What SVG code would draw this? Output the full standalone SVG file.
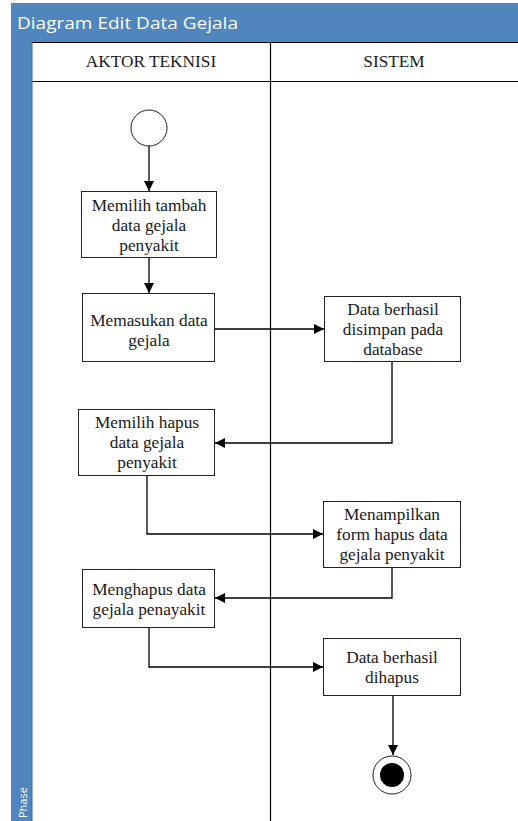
<svg xmlns="http://www.w3.org/2000/svg" width="518" height="821" viewBox="0 0 518 821">
  <defs>
    <marker id="arrow" viewBox="0 0 10 10" refX="10" refY="5" markerWidth="10" markerHeight="10" markerUnits="userSpaceOnUse" orient="auto">
      <path d="M0,0 L10,5 L0,10 z" fill="#000"/>
    </marker>
    <style>
      .box { fill: #fff; stroke: #222; stroke-width: 1; }
      .label { font-family: 'Liberation Serif', 'Times New Roman', Times, serif; font-size: 17.3px; fill: #1a1a1a; text-anchor: middle; }
      .flow { fill: none; stroke: #000; stroke-width: 1.3; marker-end: url(#arrow); }
      .lane { stroke: #000; stroke-width: 1.2; }
    </style>
  </defs>

  <rect width="518" height="821" fill="#fff"/>

  <!-- pool frame: title band and phase strip -->
  <g id="pool">
    <rect x="11" y="3" width="507" height="39" fill="#4F86BE"/>
    <rect x="11" y="42" width="21" height="779" fill="#4F86BE"/>
    <line x1="32" y1="42" x2="32" y2="821" stroke="#3d6a98" stroke-width="1"/>
    <text x="17" y="29" font-family="Open Sans, 'Noto Sans', sans-serif" font-size="17" fill="#fff" textLength="221" lengthAdjust="spacingAndGlyphs">Diagram Edit Data Gejala</text>
    <text transform="translate(27,818) rotate(-90)" font-family="Open Sans, 'Noto Sans', sans-serif" font-size="11" fill="#fff">Phase</text>
  </g>

  <!-- swimlane headers -->
  <g id="lanes">
    <line class="lane" x1="32" y1="42.5" x2="518" y2="42.5"/>
    <line class="lane" x1="32" y1="81.5" x2="518" y2="81.5"/>
    <line class="lane" x1="270.5" y1="42" x2="270.5" y2="821"/>
    <text class="label" x="151" y="67">AKTOR TEKNISI</text>
    <text class="label" x="394" y="67">SISTEM</text>
  </g>

  <!-- connectors -->
  <g id="connectors">
    <path class="flow" d="M149,146 V191"/>
    <path class="flow" d="M149,258 V293"/>
    <path class="flow" d="M215,329 H324"/>
    <path class="flow" d="M392,362 V443 H215"/>
    <path class="flow" d="M147,476 V534 H323"/>
    <path class="flow" d="M392,568 V598 H215"/>
    <path class="flow" d="M149,628 V667 H323"/>
    <path class="flow" d="M393,696 V755"/>
  </g>

  <g id="start">
    <circle cx="149" cy="128" r="18" fill="#fff" stroke="#222" stroke-width="1"/>
  </g>

  <g id="memilih-tambah">
    <rect class="box" x="81.5" y="191.5" width="135" height="66"/>
    <text class="label" x="149" y="211">Memilih tambah</text>
    <text class="label" x="149" y="231">data gejala</text>
    <text class="label" x="149" y="251">penyakit</text>
  </g>

  <g id="memasukan-data">
    <rect class="box" x="82.5" y="293.5" width="132" height="68"/>
    <text class="label" x="149" y="326">Memasukan data</text>
    <text class="label" x="149" y="346">gejala</text>
  </g>

  <g id="data-disimpan">
    <rect class="box" x="324.5" y="296.5" width="136" height="65"/>
    <text class="label" x="393" y="315">Data berhasil</text>
    <text class="label" x="393" y="335">disimpan pada</text>
    <text class="label" x="393" y="355">database</text>
  </g>

  <g id="memilih-hapus">
    <rect class="box" x="78.5" y="409.5" width="136" height="66"/>
    <text class="label" x="147" y="428">Memilih hapus</text>
    <text class="label" x="147" y="448">data gejala</text>
    <text class="label" x="147" y="468">penyakit</text>
  </g>

  <g id="form-hapus">
    <rect class="box" x="323.5" y="501.5" width="137" height="66"/>
    <text class="label" x="392" y="520">Menampilkan</text>
    <text class="label" x="392" y="540">form hapus data</text>
    <text class="label" x="392" y="560">gejala penyakit</text>
  </g>

  <g id="menghapus-data">
    <rect class="box" x="82.5" y="569.5" width="132" height="58"/>
    <text class="label" x="149" y="595">Menghapus data</text>
    <text class="label" x="149" y="615">gejala penayakit</text>
  </g>

  <g id="data-dihapus">
    <rect class="box" x="323.5" y="638.5" width="137" height="57"/>
    <text class="label" x="392" y="663">Data berhasil</text>
    <text class="label" x="392" y="683">dihapus</text>
  </g>

  <g id="end">
    <circle cx="392" cy="775" r="19" fill="#fff" stroke="#222" stroke-width="1"/>
    <circle cx="392" cy="775" r="12" fill="#000"/>
  </g>
</svg>
